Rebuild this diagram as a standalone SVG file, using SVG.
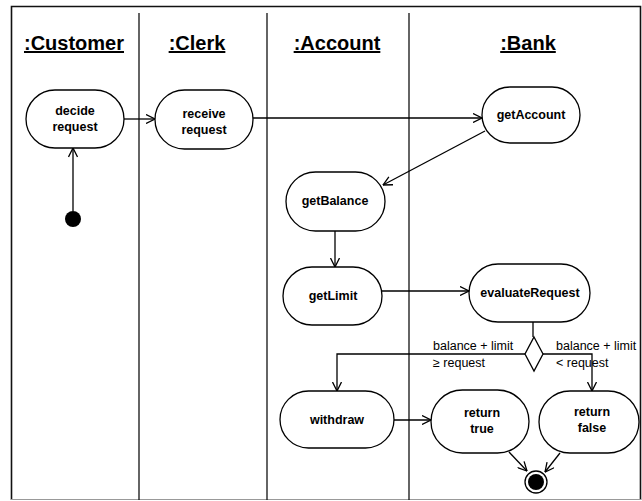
<svg xmlns="http://www.w3.org/2000/svg" width="642" height="501" viewBox="0 0 642 501">
  <defs>
    <marker id="open" viewBox="0 0 10 10" refX="9.5" refY="5" markerWidth="10" markerHeight="10" markerUnits="userSpaceOnUse" orient="auto">
      <path d="M0.5,0.5 L9.5,5 L0.5,9.5" fill="none" stroke="#000" stroke-width="1.3"/>
    </marker>
  </defs>
  <style>
    .frame { fill: none; stroke: #111; stroke-width: 1.6; }
    .lane { stroke: #111; stroke-width: 1.3; }
    .head { font-family: "Liberation Sans", Arial, sans-serif; font-weight: bold; font-size: 20px; text-anchor: middle; text-decoration: underline; fill: #000; }
    .act { fill: #fff; stroke: #000; stroke-width: 1.3; }
    .lbl { font-family: "Liberation Sans", Arial, sans-serif; font-weight: bold; font-size: 12.5px; text-anchor: middle; fill: #000; }
    .guard { font-family: "Liberation Sans", Arial, sans-serif; font-size: 12.5px; fill: #000; }
    .flow { fill: none; stroke: #000; stroke-width: 1.3; }
  </style>

  <rect width="642" height="501" fill="#fff"/>

  <!-- swimlane frame -->
  <g id="lanes">
    <path class="frame" d="M11.5,500 L11.5,6.5 L640.5,6.5 L640.5,500"/>
    <line x1="11" y1="499.5" x2="641" y2="499.5" stroke="#999" stroke-width="1.2"/>
    <line class="lane" x1="139" y1="13" x2="139" y2="500"/>
    <line class="lane" x1="267" y1="13" x2="267" y2="500"/>
    <line class="lane" x1="409" y1="13" x2="409" y2="500"/>
    <text class="head" x="74" y="50">:Customer</text>
    <text class="head" x="197" y="50">:Clerk</text>
    <text class="head" x="337" y="50">:Account</text>
    <text class="head" x="528" y="50">:Bank</text>
  </g>

  <!-- connectors -->
  <g id="connectors">
    <line class="flow" x1="73" y1="211" x2="73" y2="148" marker-end="url(#open)"/>
    <line class="flow" x1="124" y1="119" x2="155" y2="119" marker-end="url(#open)"/>
    <line class="flow" x1="253" y1="118" x2="482" y2="118" marker-end="url(#open)"/>
    <line class="flow" x1="485" y1="131" x2="383" y2="185" marker-end="url(#open)"/>
    <line class="flow" x1="335" y1="231" x2="335" y2="267" marker-end="url(#open)"/>
    <line class="flow" x1="382" y1="291" x2="469" y2="291" marker-end="url(#open)"/>
    <line class="flow" x1="533" y1="322" x2="533" y2="337"/>
    <polyline class="flow" points="525,354 337,354 337,391" marker-end="url(#open)"/>
    <polyline class="flow" points="543,354 592,354 592,391" marker-end="url(#open)"/>
    <line class="flow" x1="394" y1="420" x2="431" y2="420" marker-end="url(#open)"/>
    <line class="flow" x1="509" y1="452" x2="527" y2="471" marker-end="url(#open)"/>
    <line class="flow" x1="560" y1="453" x2="545" y2="472" marker-end="url(#open)"/>
    <text class="guard" x="433" y="350">balance + limit</text>
    <text class="guard" x="433" y="367">≥ request</text>
    <text class="guard" x="556" y="350">balance + limit</text>
    <text class="guard" x="556" y="367">&lt; request</text>
  </g>

  <g id="start">
    <circle cx="73" cy="219" r="8" fill="#000"/>
  </g>

  <g id="decideRequest">
    <rect class="act" x="26" y="90" width="98" height="58" rx="29"/>
    <text class="lbl" x="75" y="115">decide</text>
    <text class="lbl" x="75" y="131">request</text>
  </g>

  <g id="receiveRequest">
    <rect class="act" x="155" y="90" width="98" height="59" rx="29.5"/>
    <text class="lbl" x="204" y="118">receive</text>
    <text class="lbl" x="204" y="134">request</text>
  </g>

  <g id="getAccount">
    <rect class="act" x="482" y="87" width="98" height="56" rx="28"/>
    <text class="lbl" x="531" y="119">getAccount</text>
  </g>

  <g id="getBalance">
    <rect class="act" x="286" y="172" width="99" height="59" rx="29.5"/>
    <text class="lbl" x="335" y="205">getBalance</text>
  </g>

  <g id="getLimit">
    <rect class="act" x="283" y="267" width="99" height="58" rx="29"/>
    <text class="lbl" x="333" y="300">getLimit</text>
  </g>

  <g id="evaluateRequest">
    <rect class="act" x="469" y="264" width="121" height="58" rx="29"/>
    <text class="lbl" x="530" y="297">evaluateRequest</text>
  </g>

  <g id="decision">
    <polygon class="act" points="534,337 543,354 534,371 525,354"/>
  </g>

  <g id="withdraw">
    <rect class="act" x="280" y="391" width="114" height="57" rx="28.5"/>
    <text class="lbl" x="337" y="424">withdraw</text>
  </g>

  <g id="returnTrue">
    <rect class="act" x="431" y="390" width="98" height="63" rx="31.5"/>
    <text class="lbl" x="482" y="417">return</text>
    <text class="lbl" x="482" y="433">true</text>
  </g>

  <g id="returnFalse">
    <rect class="act" x="539" y="391" width="100" height="62" rx="31"/>
    <text class="lbl" x="592" y="416">return</text>
    <text class="lbl" x="592" y="432">false</text>
  </g>

  <g id="end">
    <circle cx="536" cy="482" r="11" fill="#fff" stroke="#000" stroke-width="1.3"/>
    <circle cx="536" cy="482" r="8" fill="#000"/>
  </g>
</svg>
